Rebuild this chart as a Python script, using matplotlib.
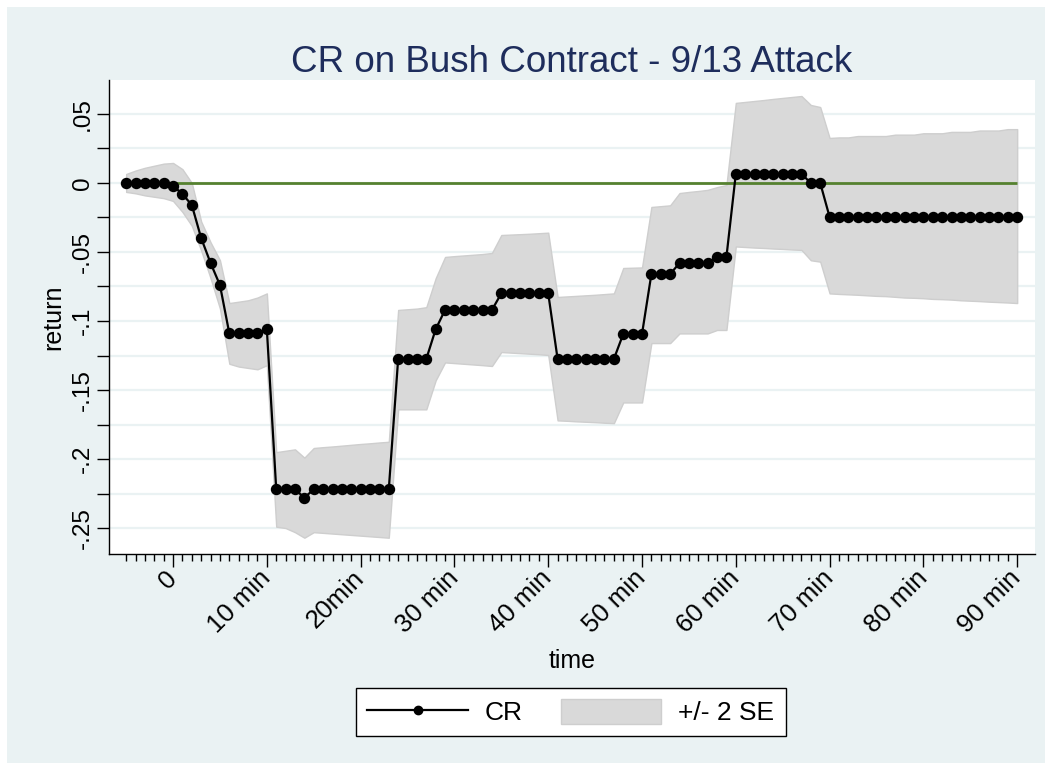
import numpy as np
import matplotlib
matplotlib.use("Agg")
import matplotlib.pyplot as plt
from matplotlib.patches import Rectangle, Patch
from matplotlib.lines import Line2D

plt.rcParams["font.family"] = ["Liberation Sans", "DejaVu Sans"]

# minutes relative to the attack
minutes = np.arange(-5, 91)

cr = [
    0, 0, 0, 0, 0,
    -0.002, -0.008, -0.016, -0.040, -0.058, -0.074,
    -0.109, -0.109, -0.109, -0.109, -0.106,
    -0.222, -0.222, -0.222, -0.228, -0.222, -0.222, -0.222, -0.222, -0.222,
    -0.222, -0.222, -0.222, -0.222,
    -0.1275, -0.1275, -0.1275, -0.1275, -0.106,
    -0.092, -0.092, -0.092, -0.092, -0.092, -0.092,
    -0.080, -0.080, -0.080, -0.080, -0.080, -0.080,
    -0.1275, -0.1275, -0.1275, -0.1275, -0.1275, -0.1275, -0.1275,
    -0.1094, -0.1094, -0.1094,
    -0.066, -0.066, -0.066,
    -0.058, -0.058, -0.058, -0.058,
    -0.0536, -0.0536,
    0.0065, 0.0065, 0.0065, 0.0065, 0.0065, 0.0065, 0.0065, 0.0065,
    0.0, 0.0,
    -0.0246, -0.0246, -0.0246, -0.0246, -0.0246, -0.0246, -0.0246,
    -0.0246, -0.0246, -0.0246, -0.0246, -0.0246, -0.0246, -0.0246,
    -0.0246, -0.0246, -0.0246, -0.0246, -0.0246, -0.0246, -0.0246,
]

upper = [
    0.0065, 0.009, 0.011, 0.0125, 0.014,
    0.0145, 0.010, 0.000, -0.028, -0.043, -0.056,
    -0.087, -0.086, -0.085, -0.083, -0.080,
    -0.195, -0.194, -0.193, -0.199, -0.192, -0.1914, -0.1909, -0.1903, -0.1897,
    -0.1891, -0.1886, -0.188, -0.1875,
    -0.092, -0.0915, -0.091, -0.090, -0.069,
    -0.0536, -0.053, -0.0525, -0.052, -0.0515, -0.0507,
    -0.0377, -0.0374, -0.0371, -0.0368, -0.0364, -0.036,
    -0.0826, -0.0822, -0.0818, -0.0814, -0.081, -0.0805, -0.080,
    -0.0616, -0.0614, -0.0612,
    -0.0174, -0.0168, -0.0162,
    -0.0073, -0.0065, -0.0058, -0.005,
    -0.003, -0.0015,
    0.058, 0.0587, 0.0594, 0.0601, 0.0609, 0.0616, 0.0623, 0.063,
    0.0565, 0.055,
    0.0326, 0.033, 0.033, 0.034, 0.034, 0.034, 0.034,
    0.035, 0.035, 0.035, 0.036, 0.036, 0.036, 0.037,
    0.037, 0.037, 0.038, 0.038, 0.038, 0.039, 0.039,
]

lower = [
    -0.0065, -0.0075, -0.009, -0.010, -0.011,
    -0.013, -0.021, -0.031, -0.049, -0.069, -0.091,
    -0.131, -0.133, -0.134, -0.135, -0.132,
    -0.249, -0.250, -0.253, -0.257, -0.253, -0.2535, -0.254, -0.2545, -0.255,
    -0.2555, -0.256, -0.2565, -0.257,
    -0.164, -0.164, -0.164, -0.164, -0.143,
    -0.130, -0.1305, -0.131, -0.1315, -0.132, -0.1326,
    -0.1225, -0.1229, -0.1233, -0.1237, -0.1241, -0.1246,
    -0.172, -0.1723, -0.1727, -0.173, -0.1733, -0.1737, -0.174,
    -0.159, -0.159, -0.159,
    -0.116, -0.116, -0.116,
    -0.109, -0.109, -0.109, -0.109,
    -0.1065, -0.1065,
    -0.046, -0.0464, -0.0468, -0.0471, -0.0475, -0.0478, -0.0482, -0.0485,
    -0.056, -0.057,
    -0.080, -0.0804, -0.0807, -0.081, -0.0814, -0.0818, -0.082,
    -0.0825, -0.083, -0.0832, -0.0835, -0.084, -0.0842, -0.0845,
    -0.085, -0.0853, -0.0856, -0.086, -0.0863, -0.0866, -0.087,
]

xtick_pos = [0, 10, 20, 30, 40, 50, 60, 70, 80, 90]
xtick_labels = ["0", "10 min", "20min", "30 min", "40 min", "50 min",
                "60 min", "70 min", "80 min", "90 min"]
ytick_pos = [-0.25, -0.2, -0.15, -0.1, -0.05, 0, 0.05]
ytick_labels = ["-.25", "-.2", "-.15", "-.1", "-.05", "0", ".05"]

W, H = 1052, 770
fig = plt.figure(figsize=(W / 100, H / 100), dpi=100)
fig.patch.set_facecolor("white")
fig.patches.append(Rectangle((7 / W, 7 / H), 1 - 14 / W, 1 - 14 / H,
                             transform=fig.transFigure, facecolor="#EAF2F3",
                             edgecolor="none", zorder=-5))

ax = fig.add_axes([109 / W, 1 - 554 / H, (1035 - 109) / W, (554 - 80) / H])
ax.set_facecolor("white")

band_color = "#D9D9D9"
ax.fill_between(minutes, lower, upper, facecolor=band_color,
                edgecolor="#CECECE", linewidth=1, zorder=2)
ax.hlines(0, minutes[0], minutes[-1], color="#55812F", linewidth=2, zorder=3)
ax.plot(minutes, cr, color="black", linewidth=1.6, marker="o",
        markersize=7.2, zorder=4)

ax.set_xlim(-6.83, 91.9)
ax.set_ylim(-0.2688, 0.0746)

# grid on every .025
ax.set_yticks(ytick_pos)
ax.set_yticklabels(ytick_labels, rotation=90, va="center", fontsize=17.5)
ax.set_yticks([-0.225, -0.175, -0.125, -0.075, -0.025, 0.025], minor=True)
ax.yaxis.grid(True, which="both", color="#EAF2F3", linewidth=1.6, zorder=1)
ax.set_axisbelow(True)

ax.set_xticks(xtick_pos)
ax.set_xticklabels(xtick_labels, rotation=45, ha="right", va="center",
                   rotation_mode="anchor", fontsize=18.5)
ax.set_xticks(minutes, minor=True)

ax.tick_params(axis="x", which="major", length=9, width=1, pad=6)
ax.tick_params(axis="x", which="minor", length=5, width=1)
ax.tick_params(axis="y", which="both", length=9, width=1, pad=2)

for side in ["top", "right"]:
    ax.spines[side].set_visible(False)
for side in ["left", "bottom"]:
    ax.spines[side].set_linewidth(1)

ax.set_title("CR on Bush Contract - 9/13 Attack", fontsize=26.5,
             color="#1E2D5C", pad=6)
ax.set_xlabel("time", fontsize=18, labelpad=8)
ax.set_ylabel("return", fontsize=18, labelpad=5)

handles = [
    Line2D([], [], color="black", linewidth=1.6, marker="o", markersize=6),
    Patch(facecolor=band_color, edgecolor="#CECECE"),
]
leg = fig.legend(handles, ["CR", "+/- 2 SE"], loc="center",
                 bbox_to_anchor=(571 / W, 1 - 712 / H), ncol=2,
                 fontsize=19, frameon=True, fancybox=False, framealpha=1,
                 handlelength=3.8, handleheight=1.1, handletextpad=0.65,
                 columnspacing=1.45, borderpad=0.42)
leg.get_frame().set_edgecolor("black")
leg.get_frame().set_facecolor("white")
leg.get_frame().set_linewidth(1)

fig.savefig("out.png", dpi=100)
